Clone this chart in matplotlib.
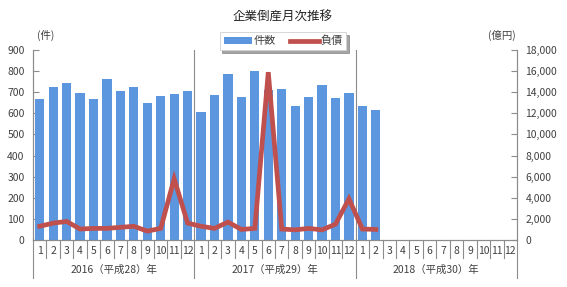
import matplotlib.pyplot as plt
from matplotlib.ticker import FuncFormatter
import matplotlib.transforms as mtransforms

plt.rcParams['font.family'] = ['Noto Sans CJK JP', 'DejaVu Sans']

# 企業倒産件数（件）と負債総額（億円）
years = ['2016（平成28）年', '2017（平成29）年', '2018（平成30）年']
months = [str(m) for m in range(1, 13)] * 3
cases = [669, 723, 742, 695, 670, 761, 708, 723, 648, 681, 690, 707,
         606, 686, 784, 676, 799, 712, 717, 637, 676, 734, 675, 695,
         635, 614]
debt = [1300, 1600, 1760, 1040, 1100, 1100, 1200, 1300, 840, 1100, 5800, 1600,
        1300, 1100, 1700, 1000, 1100, 15900, 1040, 960, 1100, 960, 1500, 3900,
        1040, 1000]

bar_color = '#5B96DF'
line_color = '#C0504D'
grey = '#8C8C8C'
txt = '#404040'

fig = plt.figure(figsize=(5.67, 2.87), dpi=100)
ax = fig.add_axes([33 / 567, 1 - 240 / 287, 484 / 567, 190 / 287])
ax2 = ax.twinx()

ax.bar(range(len(cases)), cases, width=0.68, color=bar_color, label='件数', zorder=2)
ax2.plot(range(len(debt)), debt, color=line_color, lw=3.4, label='負債', zorder=3,
         solid_joinstyle='miter')

ax.set_xlim(-0.5, 35.5)
ax.set_ylim(0, 900)
ax.set_yticks(range(0, 901, 100))
ax2.set_ylim(0, 18000)
ax2.set_yticks(range(0, 18001, 2000))
ax2.yaxis.set_major_formatter(FuncFormatter(lambda v, p: f'{int(v):,}'))

ax.set_xticks(range(36))
ax.set_xticklabels(months)
ax.tick_params(axis='x', length=0, pad=4, labelsize=7.5, colors=txt)
ax.tick_params(axis='y', direction='in', length=4, labelsize=7.5, colors=txt, pad=6)
ax2.tick_params(axis='y', direction='in', length=4, labelsize=7.5, colors=txt, pad=6)

for a in (ax, ax2):
    a.spines['top'].set_visible(False)
    a.spines['bottom'].set_color(grey)
    a.spines['left'].set_color(grey)
    a.spines['right'].set_color(grey)
ax.tick_params(axis='y', color=grey)
ax2.tick_params(axis='y', color=grey)

trans = mtransforms.blended_transform_factory(ax.transData, ax.transAxes)
for k in range(36):
    x = k + 0.5
    if k in (11, 23, 35):
        continue
    ax.plot([x, x], [0, -0.095], transform=trans, color=grey, lw=0.8, clip_on=False)
for x in (-0.5, 11.5, 23.5, 35.5):
    ax.plot([x, x], [0, -0.2], transform=trans, color=grey, lw=0.8, clip_on=False)
for x in (11.5, 23.5):
    ax.plot([x, x], [0, 1], transform=trans, color=grey, lw=0.8, zorder=1)
for i, y in enumerate(years):
    ax.text(i * 12 + 5.5, -0.155, y, transform=trans, ha='center', va='center',
            fontsize=7.5, color=txt)

fig.text(283 / 567, 1 - 17 / 287, '企業倒産月次推移', ha='center', va='center',
         fontsize=9, color='#202020')
fig.text(46 / 567, 1 - 35 / 287, '(件)', ha='center', va='center', fontsize=7.5, color=txt)
fig.text(502 / 567, 1 - 35 / 287, '(億円)', ha='center', va='center', fontsize=7.5, color=txt)

h1, l1 = ax.get_legend_handles_labels()
h2, l2 = ax2.get_legend_handles_labels()
leg = fig.legend(h1 + h2, l1 + l2, loc='center', bbox_to_anchor=(283 / 567, 1 - 41 / 287),
                 ncol=2, fontsize=8, frameon=True, fancybox=False, shadow=True,
                 handlelength=2.6, handleheight=0.5, columnspacing=1.3, handletextpad=0.1,
                 borderpad=0.35)
leg.get_frame().set_edgecolor('#D0D0D0')
leg.get_frame().set_linewidth(0.6)
for t in leg.get_texts():
    t.set_color(txt)

fig.savefig('out.png', dpi=100)
